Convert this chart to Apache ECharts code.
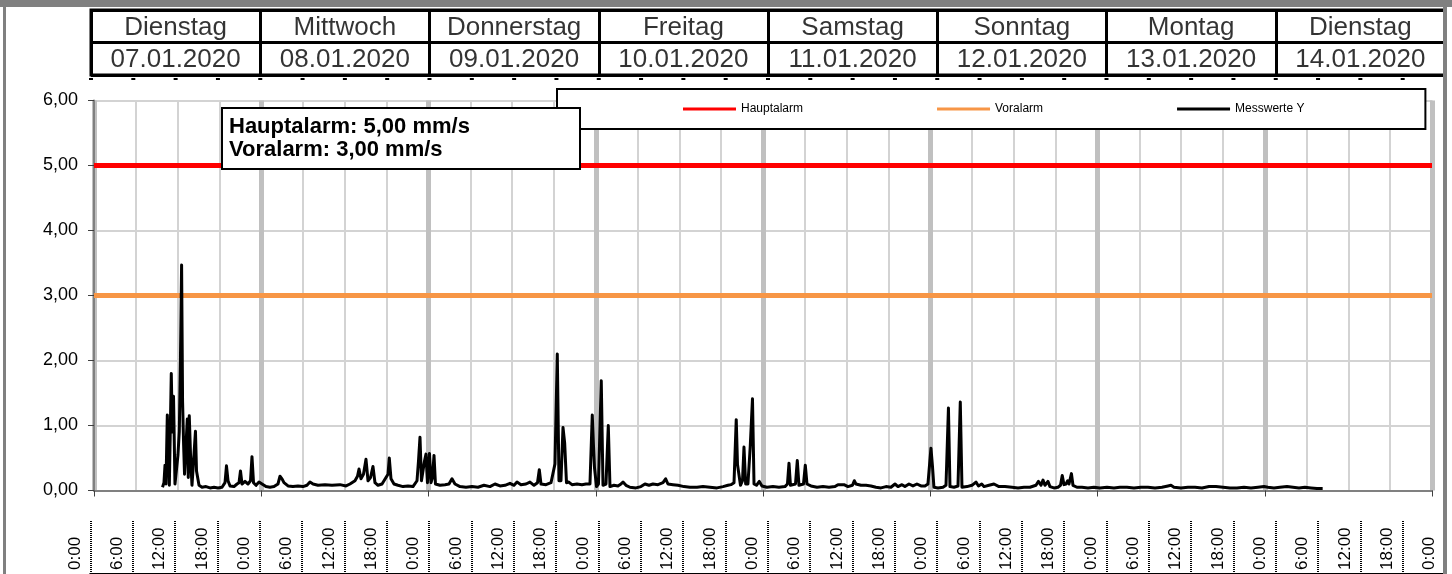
<!DOCTYPE html>
<html><head><meta charset="utf-8">
<script src="https://cdn.jsdelivr.net/npm/echarts@6/dist/echarts.min.js"></script>
<style>
html,body{margin:0;padding:0;background:#fff;}
#chart{position:absolute;left:0;top:0;width:1452px;height:574px;}
.frame{position:absolute;background:#808080;z-index:5;}
</style></head><body>
<div id="chart"></div>
<div class="frame" style="left:0;top:0;width:1452px;height:7px"></div>
<div class="frame" style="left:3px;top:0;width:3px;height:574px"></div>
<div class="frame" style="left:1443px;top:0;width:4px;height:574px"></div>
<script>
// Header (days)
const wochentage = ['Dienstag','Mittwoch','Donnerstag','Freitag','Samstag','Sonntag','Montag','Dienstag'];
const daten = ['07.01.2020','08.01.2020','09.01.2020','10.01.2020','11.01.2020','12.01.2020','13.01.2020','14.01.2020'];
// Time-of-day tick labels (every 6 h)
const uhrzeiten = ['0:00','6:00','12:00','18:00'];
// Alarm thresholds (mm/s), from start to end of the period (hours since 07.01.2020 0:00)
const alarmZeit = [0, 192];
const hauptalarm = [5.00, 5.00];
const voralarm = [3.00, 3.00];
// Measured values Y (hours since 07.01.2020 0:00, mm/s)
const messZeit = [
 9.83,10.04,10.19,10.33,10.52,10.69,10.81,11.09,11.24,11.41,11.62,11.84,12.05,12.24,12.41,12.57,12.71,12.86,12.99,13.17,
 13.39,13.53,13.67,13.85,14.06,14.28,14.56,14.71,14.85,15.07,15.50,16.07,16.65,17.22,17.79,18.37,18.80,19.01,19.23,19.52,
 20.09,20.52,20.81,21.02,21.24,21.67,22.10,22.46,22.67,22.89,23.25,23.68,24.11,24.68,25.25,25.83,26.40,26.69,26.98,27.26,
 27.84,28.55,29.27,29.99,30.56,30.99,31.43,32.14,33.15,34.15,35.30,36.16,36.73,37.45,37.81,38.03,38.31,38.67,39.03,39.32,
 39.68,40.03,40.32,40.75,41.33,41.90,42.19,42.37,42.62,43.05,43.62,44.34,45.06,45.77,46.35,46.56,46.78,46.99,47.42,47.64,
 47.85,48.14,48.36,48.57,48.79,49.00,49.65,50.37,50.94,51.37,51.80,52.52,53.38,54.24,55.10,55.96,56.82,57.54,58.26,58.98,
 59.69,60.27,60.70,61.27,61.99,62.56,63.14,63.64,63.90,64.14,64.86,65.58,65.86,66.15,66.48,66.72,67.01,67.30,67.54,67.80,
 68.09,68.59,69.31,70.02,70.60,71.17,71.50,71.67,71.82,72.11,72.39,72.79,73.04,73.47,73.80,74.04,74.62,75.19,75.62,75.91,
 76.34,76.91,77.77,78.49,79.06,79.64,80.21,80.93,81.65,82.03,82.36,83.08,83.80,84.66,85.52,86.53,87.39,88.39,89.40,90.26,
 90.97,91.40,91.84,92.16,92.34,92.51,92.77,93.06,93.27,93.51,93.84,94.17,94.49,94.71,95.06,95.47,95.85,96.57,97.43,98.29,
 99.15,99.51,99.73,99.94,100.66,100.92,101.16,101.81,102.07,102.31,102.88,103.75,104.61,105.47,106.33,106.76,107.62,108.19,108.84,109.10,
 109.34,110.06,110.78,111.49,112.21,112.93,113.65,114.36,114.94,115.37,115.94,116.37,116.95,117.52,118.09,118.67,119.24,119.67,120.10,120.32,
 120.53,121.11,121.83,122.26,122.61,122.83,123.40,123.98,124.31,124.55,125.27,125.99,126.56,126.92,127.38,127.71,128.43,129.14,129.86,130.72,
 131.73,132.59,133.45,134.31,135.17,135.53,135.89,136.18,136.46,136.89,137.18,137.75,138.33,138.69,138.94,139.19,139.48,139.72,139.91,140.26,
 140.48,141.05,141.77,142.63,143.49,144.35,145.36,146.36,147.22,148.23,149.23,150.24,151.24,152.25,153.25,154.11,154.54,154.97,155.97,156.98,
 157.99,158.99,160.00,161.00,162.01,163.01,164.01,165.02,166.02,167.03,167.89,168.46,169.32,170.18,171.19,172.05,172.91,173.77,174.63,175.49,
 176.31
];
const messWerte = [
 0.05,0.12,0.39,0.10,1.16,0.60,0.08,1.80,0.90,1.45,0.10,0.12,0.55,0.91,2.05,3.47,1.37,0.70,0.25,0.63,
 1.10,0.20,1.15,0.55,0.08,0.10,0.91,0.30,0.27,0.08,0.05,0.06,0.04,0.05,0.04,0.05,0.12,0.38,0.15,0.07,
 0.06,0.10,0.12,0.30,0.10,0.14,0.10,0.15,0.52,0.12,0.08,0.13,0.10,0.06,0.05,0.06,0.10,0.22,0.18,0.12,
 0.07,0.06,0.07,0.06,0.08,0.13,0.10,0.08,0.09,0.08,0.09,0.07,0.10,0.15,0.22,0.33,0.18,0.25,0.48,0.15,
 0.20,0.37,0.12,0.08,0.10,0.20,0.25,0.50,0.18,0.10,0.08,0.06,0.07,0.06,0.15,0.45,0.82,0.15,0.45,0.56,
 0.12,0.57,0.12,0.20,0.54,0.10,0.08,0.09,0.10,0.18,0.10,0.06,0.05,0.06,0.05,0.08,0.06,0.10,0.07,0.08,
 0.11,0.08,0.13,0.09,0.10,0.13,0.08,0.12,0.32,0.10,0.09,0.12,0.10,0.41,2.10,0.15,0.15,0.97,0.73,0.12,
 0.13,0.09,0.10,0.09,0.10,0.10,1.16,0.70,0.35,0.06,0.10,1.69,0.08,0.10,1.00,0.06,0.08,0.07,0.10,0.13,
 0.08,0.05,0.04,0.06,0.10,0.08,0.10,0.09,0.12,0.18,0.10,0.09,0.08,0.06,0.05,0.05,0.06,0.05,0.04,0.06,
 0.08,0.09,0.12,1.09,0.40,0.37,0.08,0.15,0.67,0.10,0.10,0.68,1.41,0.10,0.08,0.14,0.07,0.05,0.06,0.05,
 0.06,0.10,0.42,0.08,0.10,0.46,0.08,0.10,0.39,0.10,0.07,0.05,0.06,0.05,0.06,0.09,0.09,0.06,0.08,0.15,
 0.10,0.08,0.08,0.07,0.05,0.04,0.06,0.05,0.10,0.06,0.09,0.06,0.10,0.07,0.10,0.07,0.07,0.10,0.65,0.37,
 0.05,0.04,0.05,0.08,1.27,0.06,0.05,0.07,1.36,0.05,0.06,0.08,0.13,0.07,0.10,0.06,0.08,0.10,0.06,0.06,
 0.05,0.04,0.05,0.05,0.08,0.14,0.08,0.16,0.08,0.14,0.06,0.04,0.05,0.08,0.23,0.09,0.10,0.15,0.10,0.26,
 0.08,0.05,0.05,0.04,0.05,0.04,0.05,0.04,0.05,0.05,0.04,0.05,0.05,0.04,0.05,0.07,0.08,0.05,0.04,0.05,
 0.05,0.04,0.06,0.06,0.05,0.04,0.04,0.05,0.04,0.05,0.06,0.05,0.04,0.05,0.06,0.05,0.04,0.05,0.04,0.03,
 0.03
];

const FONT = "'Liberation Sans', Arial, sans-serif";
const fmt = v => v.toFixed(2).replace('.', ',');
const zeitLabels = [];
for (let d = 0; d < wochentage.length; d++) uhrzeiten.forEach(u => zeitLabels.push(u));
zeitLabels.push(uhrzeiten[0]);

const headerData = wochentage.map((w, i) => [i, 1.5, w]).concat(daten.map((d, i) => [i, 0.5, d]));
const strichData = zeitLabels.map((_, i) => [i, 0.5]);

const chart = echarts.init(document.getElementById('chart'), null, {renderer: 'canvas'});
chart.setOption({
  animation: false,
  backgroundColor: '#fff',
  textStyle: {fontFamily: FONT},
  title: {
    text: 'Hauptalarm: ' + fmt(hauptalarm[0]) + ' mm/s\nVoralarm: ' + fmt(voralarm[0]) + ' mm/s',
    left: 222, top: 108,
    backgroundColor: '#fff', borderColor: '#000', borderWidth: 2,
    padding: [7, 110, 8, 7],
    textStyle: {fontFamily: FONT, fontSize: 22, fontWeight: 'bold', lineHeight: 23, color: '#000'}
  },
  legend: {
    data: ['Hauptalarm', 'Voralarm', 'Messwerte Y'],
    left: 557, top: 89,
    backgroundColor: '#fff', borderColor: '#000', borderWidth: 2,
    padding: [14, 121, 14, 126],
    itemWidth: 53, itemHeight: 3, itemGap: 134, icon: 'rect',
    selectedMode: false,
    textStyle: {fontFamily: FONT, fontSize: 12, color: '#000'}
  },
  grid: [
    {left: 94, top: 100.5, width: 1338, height: 390, outerBoundsMode: 'none'},
    {left: 91, top: 10, width: 1354, height: 65, show: true, borderColor: '#000', borderWidth: 3, backgroundColor: '#fff', outerBoundsMode: 'none'},
    {left: 90.5, top: 521, width: 1354.5, height: 53, outerBoundsMode: 'none'},
    {left: 75, top: 521, width: 1354.5, height: 53, outerBoundsMode: 'none'},
    {left: 91, top: 76, width: 1354, height: 6, outerBoundsMode: 'none'}
  ],
  xAxis: [
    {gridIndex: 0, type: 'value', min: 0, max: 192, interval: 6, position: 'bottom',
     axisLine: {show: true, lineStyle: {color: '#808080', width: 2}},
     axisTick: {show: false}, axisLabel: {show: false},
     splitLine: {show: true, lineStyle: {color: '#d3d3d3', width: 2}}},
    {gridIndex: 0, type: 'value', min: 0, max: 192, interval: 24, position: 'bottom',
     axisLine: {show: false},
     axisTick: {show: true, length: 6, lineStyle: {color: '#404040', width: 1}},
     axisLabel: {show: false},
     splitLine: {show: true, lineStyle: {color: '#c0c0c0', width: 5}}},
    {gridIndex: 1, type: 'category', data: daten, boundaryGap: true, position: 'top',
     axisLine: {show: false}, axisTick: {show: false}, axisLabel: {show: false},
     splitLine: {show: true, interval: 0, lineStyle: {color: '#000', width: 3}}},
    {gridIndex: 4, type: 'value', min: 0, max: 32, interval: 1, position: 'bottom',
     axisLine: {show: false}, axisTick: {show: false}, axisLabel: {show: false},
     splitLine: {show: false}},
    {gridIndex: 2, type: 'value', min: 0, max: 32, interval: 1, position: 'top',
     axisLine: {show: true, lineStyle: {color: '#000', width: 3}},
     axisTick: {show: false}, axisLabel: {show: false},
     splitLine: {show: true, lineStyle: {color: '#000', width: 2, type: [1, 1]}}},
    {gridIndex: 3, type: 'value', min: 0, max: 32, interval: 1, position: 'top',
     axisLine: {show: false}, axisTick: {show: false}, splitLine: {show: false},
     axisLabel: {show: true, inside: true, rotate: 90, align: 'left', verticalAlign: 'middle',
       margin: 49, fontSize: 17, color: '#000', fontFamily: FONT,
       showMinLabel: true, showMaxLabel: true,
       formatter: v => zeitLabels[Math.round(v)]}}
  ],
  yAxis: [
    {gridIndex: 0, type: 'value', min: 0, max: 6, interval: 1,
     axisLine: {show: true, lineStyle: {color: '#808080', width: 2}},
     axisTick: {show: true, length: 6, lineStyle: {color: '#404040'}},
     axisLabel: {formatter: v => fmt(v), fontSize: 18, color: '#000', margin: 16, fontFamily: FONT},
     splitLine: {show: true, lineStyle: {color: '#d3d3d3', width: 2}}},
    {gridIndex: 1, type: 'value', min: 0, max: 2, interval: 1,
     axisLine: {show: false}, axisTick: {show: false}, axisLabel: {show: false},
     splitLine: {show: true, lineStyle: {color: '#000', width: 3}}},
    {gridIndex: 2, type: 'value', min: 0, max: 1, show: false},
    {gridIndex: 3, type: 'value', min: 0, max: 1, show: false},
    {gridIndex: 4, type: 'value', min: 0, max: 1, show: false}
  ],
  series: [
    {name: 'Hauptalarm', type: 'line', xAxisIndex: 0, yAxisIndex: 0, symbol: 'none', silent: true,
     data: alarmZeit.map((t, i) => [t, hauptalarm[i]]),
     lineStyle: {color: '#ff0000', width: 5}, itemStyle: {color: '#ff0000'}},
    {name: 'Voralarm', type: 'line', xAxisIndex: 0, yAxisIndex: 0, symbol: 'none', silent: true,
     data: alarmZeit.map((t, i) => [t, voralarm[i]]),
     lineStyle: {color: '#f79646', width: 5}, itemStyle: {color: '#f79646'}},
    {name: 'Messwerte Y', type: 'line', xAxisIndex: 0, yAxisIndex: 0, symbol: 'none', silent: true,
     data: messZeit.map((t, i) => [t, messWerte[i]]),
     lineStyle: {color: '#000', width: 3, join: 'round'}, itemStyle: {color: '#000'}},
    {name: 'kopf', type: 'scatter', xAxisIndex: 2, yAxisIndex: 1, silent: true,
     data: headerData, symbolSize: 1, itemStyle: {color: 'rgba(0,0,0,0)'},
     label: {show: true, position: 'inside', offset: [0, 1.5], formatter: p => p.data[2],
       fontSize: 26, color: '#000', fontFamily: FONT}},
    {name: 'striche', type: 'scatter', xAxisIndex: 3, yAxisIndex: 4, silent: true, clip: false, z: 10,
     data: strichData, symbol: 'rect', symbolSize: [4, 2], itemStyle: {color: '#000', opacity: 1}},
    {name: 'achse', type: 'line', xAxisIndex: 4, yAxisIndex: 2, data: [], symbol: 'none', silent: true},
    {name: 'achse2', type: 'line', xAxisIndex: 5, yAxisIndex: 3, data: [], symbol: 'none', silent: true}
  ]
});
</script>
</body></html>
